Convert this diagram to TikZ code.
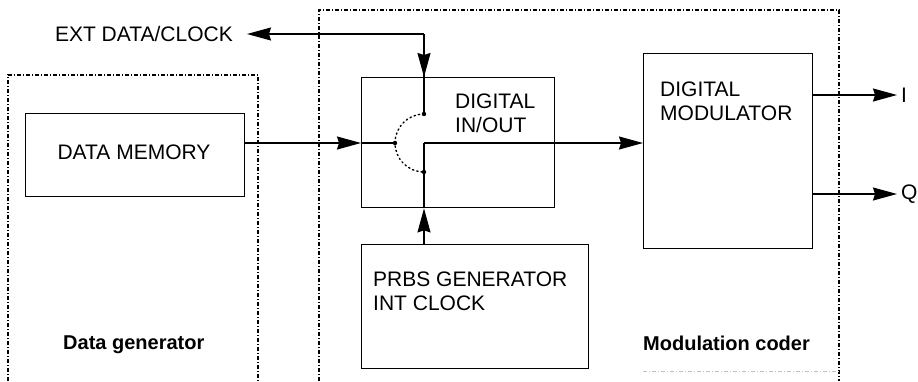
\documentclass[tikz,border=0pt]{standalone}
\usepackage{fontspec}
\setmainfont{Liberation Sans}
\usetikzlibrary{arrows.meta}

\begin{document}
\begin{tikzpicture}[x=1pt,y=-1pt,
  box/.style={draw,line width=1.4pt,inner sep=0pt,anchor=north west},
  frame/.style={line width=1.1pt,dash pattern=on 4pt off 2pt on 1pt off 2pt},
  sig/.style={line width=1.3pt},
  arr/.style={sig,-{Stealth[length=24pt,width=13pt,inset=2pt]}},
  txt/.style={font=\fontsize{21}{24}\selectfont,inner sep=0pt,align=left},
  lbl/.style={font=\fontsize{20}{24}\selectfont\bfseries,inner sep=0pt}]
  \useasboundingbox (0,0) rectangle (918,381);
  % frames
  \draw[frame] (8,381) -- (8,75) -- (258,75) -- (258,381);
  \draw[frame] (319,381) -- (319,10) -- (839,10) -- (839,381);
  \draw[frame,gray!50,line width=0.6pt] (643,371) -- (839,371);
  % blocks
  \node[box,minimum width=219pt,minimum height=83pt] (mem) at (25,113) {};
  \node[box,minimum width=193pt,minimum height=130pt] (io) at (361,77) {};
  \node[box,minimum width=169pt,minimum height=195pt] (mod) at (643,53) {};
  \node[box,minimum width=227pt,minimum height=124pt] (prbs) at (361,244) {};
  \node[txt] (memtxt) at (134,152) {DATA MEMORY};
  \node[txt,anchor=west] (iotxt) at (455,113) {DIGITAL\\IN/OUT};
  \node[txt,anchor=west] (modtxt) at (660,101) {DIGITAL\\MODULATOR};
  \node[txt,anchor=west] (prbstxt) at (373,291) {PRBS GENERATOR\\INT CLOCK};
  \node[txt,anchor=east,inner xsep=14pt] (ext) at (247,34) {EXT DATA/CLOCK};
  \node[txt,anchor=west,inner xsep=4pt] (iout) at (897,95) {I};
  \node[txt,anchor=west,inner xsep=4pt] (qout) at (897,194) {Q};
  \node[lbl,anchor=west] (dglbl) at (63,345) {Data generator};
  \node[lbl,anchor=west] (mclbl) at (643,343) {Modulation coder};
  % switch
  \coordinate (corner) at (424,34);
  \coordinate (sout) at (424,143);
  \coordinate (stop) at (424,114);
  \coordinate (sleft) at (395,143);
  \coordinate (sbot) at (424,172);
  \draw[dash pattern=on 1.4pt off 3pt,line width=1.4pt,line cap=round]
    (stop) arc[start angle=90,end angle=270,radius=29pt];
  % connections
  \draw[arr] (corner) -- (ext.east);
  \draw[sig] (corner) -- (stop);
  \draw[arr] (corner) -- (corner |- io.north);
  \draw[sig] (io.west |- sleft) -- (sleft);
  \draw[arr] (mem.east |- sleft) -- (io.west |- sleft);
  \draw[sig] (io.south -| sbot) -- (sbot);
  \draw[arr] (prbs.north -| sbot) -- (io.south -| sbot);
  \draw[sig] (sbot) -- (sout);
  \draw[arr] (sout) -- (mod.west |- sout);
  \draw[arr] (mod.east |- iout) -- (iout.west);
  \draw[arr] (mod.east |- qout) -- (qout.west);
  \foreach \p in {stop,sleft,sbot} \fill (\p) circle (2.2pt);
\end{tikzpicture}
\end{document}
